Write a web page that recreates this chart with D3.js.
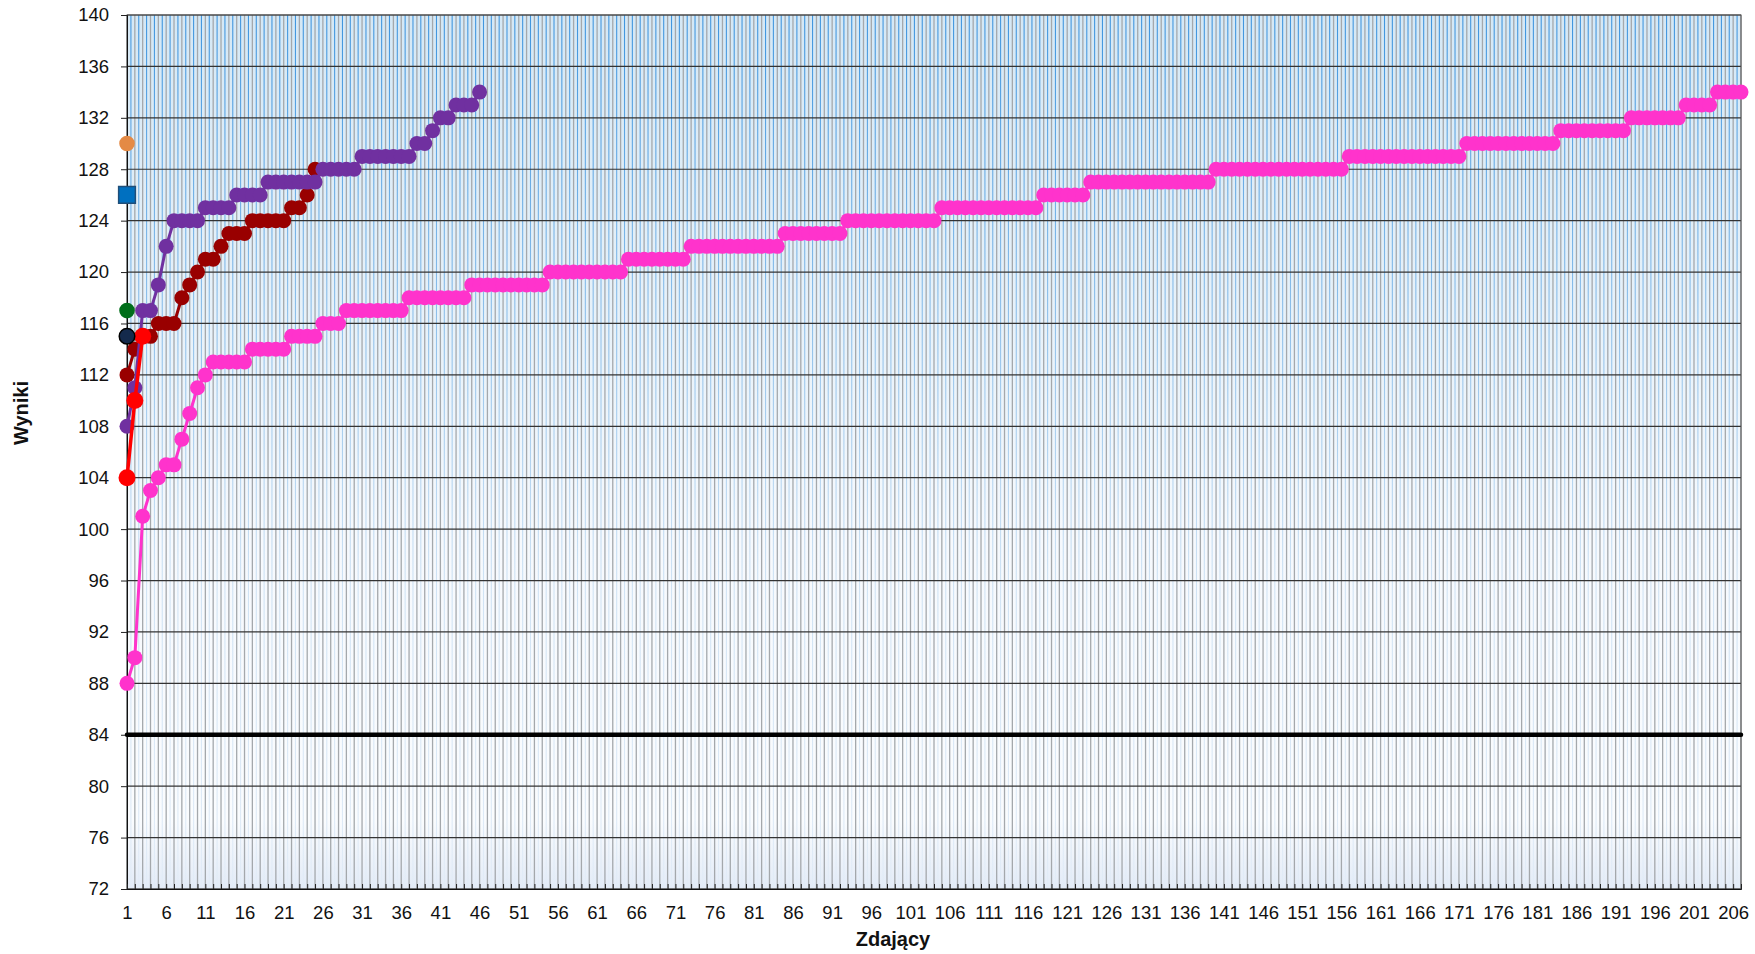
<!DOCTYPE html>
<html>
<head>
<meta charset="utf-8">
<script src="https://cdnjs.cloudflare.com/ajax/libs/d3/7.8.5/d3.min.js"></script>
<style>
body { margin: 0; background: #fff; }
text { font-family: "Liberation Sans", Arial, sans-serif; }
</style>
</head>
<body>
<script>
// examinees on the x axis (Zdający 1..207)
var categories = d3.range(1, 208);
var xTickLabels = [1, 6, 11, 16, 21, 26, 31, 36, 41, 46, 51, 56, 61, 66, 71, 76, 81, 86, 91, 96,
    101, 106, 111, 116, 121, 126, 131, 136, 141, 146, 151, 156, 161, 166, 171, 176, 181, 186,
    191, 196, 201, 206];
var yTicks = [72, 76, 80, 84, 88, 92, 96, 100, 104, 108, 112, 116, 120, 124, 128, 132, 136, 140];

// pink series, 207 results sorted
var pinkScores = [88, 90, 101, 103, 104, 105, 105, 107, 109, 111, 112,
    113, 113, 113, 113, 113,
    114, 114, 114, 114, 114,
    115, 115, 115, 115,
    116, 116, 116,
    117, 117, 117, 117, 117, 117, 117, 117,
    118, 118, 118, 118, 118, 118, 118, 118,
    119, 119, 119, 119, 119, 119, 119, 119, 119, 119,
    120, 120, 120, 120, 120, 120, 120, 120, 120, 120,
    121, 121, 121, 121, 121, 121, 121, 121,
    122, 122, 122, 122, 122, 122, 122, 122, 122, 122, 122, 122,
    123, 123, 123, 123, 123, 123, 123, 123,
    124, 124, 124, 124, 124, 124, 124, 124, 124, 124, 124, 124,
    125, 125, 125, 125, 125, 125, 125, 125, 125, 125, 125, 125, 125,
    126, 126, 126, 126, 126, 126,
    127, 127, 127, 127, 127, 127, 127, 127, 127, 127, 127, 127, 127, 127, 127, 127,
    128, 128, 128, 128, 128, 128, 128, 128, 128, 128, 128, 128, 128, 128, 128, 128, 128,
    129, 129, 129, 129, 129, 129, 129, 129, 129, 129, 129, 129, 129, 129, 129,
    130, 130, 130, 130, 130, 130, 130, 130, 130, 130, 130, 130,
    131, 131, 131, 131, 131, 131, 131, 131, 131,
    132, 132, 132, 132, 132, 132, 132,
    133, 133, 133, 133,
    134, 134, 134, 134];

// purple series, 46 results
var purpleScores = [108, 111, 117, 117, 119, 122, 124, 124, 124, 124,
    125, 125, 125, 125, 126, 126, 126, 126,
    127, 127, 127, 127, 127, 127, 127,
    128, 128, 128, 128, 128,
    129, 129, 129, 129, 129, 129, 129,
    130, 130, 131, 132, 132, 133, 133, 133, 134];

// dark red series, 25 results
var darkRedScores = [112, 114, 115, 115, 116, 116, 116, 118, 119, 120, 121, 121, 122,
    123, 123, 123, 124, 124, 124, 124, 124, 125, 125, 126, 128];

// red series, 3 results
var redScores = [104, 110, 115];

// single results at examinee 1
var singleScores = [130, 126, 117, 115];

// threshold line
var thresholdScore = 84;

var width = 1755;
var height = 954;
var plotLeft = 127, plotRight = 1741, plotTop = 15, plotBottom = 889;

var svg = d3.select("body")
    .append("svg")
    .attr("width", width)
    .attr("height", height);

var x = d3.scaleLinear()
    .domain([1, categories.length])
    .range([plotLeft, plotRight]);

var y = d3.scaleLinear()
    .domain([72, 140])
    .range([plotBottom, plotTop]);

// gradients for the plot background
var defs = svg.append("defs");
var bg = defs.append("linearGradient")
    .attr("id", "bg")
    .attr("x1", 0).attr("y1", 0).attr("x2", 0).attr("y2", 1);
bg.append("stop").attr("offset", "0%").attr("stop-color", "#d5e8f5");
bg.append("stop").attr("offset", "40%").attr("stop-color", "#eaf3fa");
bg.append("stop").attr("offset", "60%").attr("stop-color", "#f6f9fd");
bg.append("stop").attr("offset", "92%").attr("stop-color", "#fafcfe");
bg.append("stop").attr("offset", "100%").attr("stop-color", "#e3ebf7");

var stripe = defs.append("linearGradient")
    .attr("id", "stripe")
    .attr("gradientUnits", "userSpaceOnUse")
    .attr("x1", 0).attr("y1", plotTop).attr("x2", 0).attr("y2", plotBottom);
stripe.append("stop").attr("offset", "0%").attr("stop-color", "#3f95de");
stripe.append("stop").attr("offset", "35%").attr("stop-color", "#8fc0ea");
stripe.append("stop").attr("offset", "65%").attr("stop-color", "#d0e3f4");
stripe.append("stop").attr("offset", "100%").attr("stop-color", "#e2ecf7");

svg.append("rect")
    .attr("x", plotLeft)
    .attr("y", plotTop)
    .attr("width", plotRight - plotLeft)
    .attr("height", plotBottom - plotTop)
    .attr("fill", "url(#bg)");

// blue lines between categories
svg.append("g")
    .selectAll("line")
    .data(categories.slice(0, -1))
    .enter()
    .append("line")
    .attr("x1", function(d) { return x(d + 0.5); })
    .attr("x2", function(d) { return x(d + 0.5); })
    .attr("y1", plotTop)
    .attr("y2", plotBottom)
    .attr("stroke", "url(#stripe)")
    .attr("stroke-width", 1.1);

// grey gridline at every category
svg.append("g")
    .selectAll("line")
    .data(categories)
    .enter()
    .append("line")
    .attr("x1", function(d) { return x(d); })
    .attr("x2", function(d) { return x(d); })
    .attr("y1", plotTop)
    .attr("y2", plotBottom)
    .attr("stroke", "#a4a8ac")
    .attr("stroke-width", 1.3);

// horizontal gridlines
svg.append("g")
    .selectAll("line")
    .data(yTicks)
    .enter()
    .append("line")
    .attr("x1", plotLeft)
    .attr("x2", plotRight)
    .attr("y1", function(d) { return y(d); })
    .attr("y2", function(d) { return y(d); })
    .attr("stroke", "#333")
    .attr("stroke-width", 1.2);

// plot border
svg.append("rect")
    .attr("x", plotLeft)
    .attr("y", plotTop)
    .attr("width", plotRight - plotLeft)
    .attr("height", plotBottom - plotTop)
    .attr("fill", "none")
    .attr("stroke", "#555")
    .attr("stroke-width", 1);

// y axis
var yAxis = svg.append("g")
    .attr("transform", "translate(" + plotLeft + ",0)")
    .call(d3.axisLeft(y).tickValues(yTicks).tickSize(6).tickPadding(12));
yAxis.selectAll("text").attr("font-size", "18.5px").attr("fill", "#111")
    .style("font-family", "'Liberation Sans', Arial, sans-serif");
yAxis.selectAll("line").attr("stroke", "#222");
yAxis.select(".domain").attr("stroke", "#111");

// x axis: small inner ticks at every category, labels every 5th
var xTicks = svg.append("g")
    .attr("transform", "translate(0," + plotBottom + ")")
    .call(d3.axisBottom(x).tickValues(categories).tickSize(-5).tickFormat(""));
xTicks.selectAll("line").attr("stroke", "#222");
xTicks.select(".domain").attr("stroke", "#111");

var xLabels = svg.append("g")
    .attr("transform", "translate(0," + plotBottom + ")")
    .call(d3.axisBottom(x).tickValues(xTickLabels).tickSize(0).tickPadding(17)
        .tickFormat(d3.format("d")));
xLabels.select(".domain").remove();
xLabels.selectAll("text").attr("font-size", "18.5px").attr("fill", "#111")
    .style("font-family", "'Liberation Sans', Arial, sans-serif");

// axis titles
svg.append("text")
    .attr("transform", "translate(28,413) rotate(-90)")
    .attr("text-anchor", "middle")
    .attr("font-size", "20px")
    .attr("font-weight", "bold")
    .attr("fill", "#111")
    .text("Wyniki");

svg.append("text")
    .attr("x", 893)
    .attr("y", 946)
    .attr("text-anchor", "middle")
    .attr("font-size", "20px")
    .attr("font-weight", "bold")
    .attr("fill", "#111")
    .text("Zdający");

var line = d3.line()
    .x(function(d, i) { return x(categories[i]); })
    .y(function(d) { return y(d); });

function drawSeries(values, color, lineWidth, radius) {
    var g = svg.append("g");
    g.append("path")
        .datum(values)
        .attr("d", line)
        .attr("fill", "none")
        .attr("stroke", color)
        .attr("stroke-width", lineWidth)
        .attr("stroke-linejoin", "round");
    g.selectAll("circle")
        .data(values)
        .enter()
        .append("circle")
        .attr("cx", function(d, i) { return x(categories[i]); })
        .attr("cy", function(d) { return y(d); })
        .attr("r", radius)
        .attr("fill", color);
}

// threshold line
svg.append("line")
    .attr("x1", x(categories[0]))
    .attr("x2", x(categories[categories.length - 1]))
    .attr("y1", y(thresholdScore))
    .attr("y2", y(thresholdScore))
    .attr("stroke", "#000")
    .attr("stroke-width", 4.5)
    .attr("stroke-linecap", "round");

drawSeries(pinkScores, "#ff33cc", 3, 7.5);
drawSeries(darkRedScores, "#990000", 3, 7.5);
drawSeries(purpleScores, "#7030a0", 3, 7.5);
drawSeries(redScores, "#ff0000", 3.5, 8.5);

// single markers
var singleFill = ["#e48a45", "#0070c0", "#006e1a", "#142a4c"];
var singleStroke = ["none", "#1f4e79", "none", "#000"];
var singleShape = ["circle", "square", "circle", "circle"];

svg.append("g")
    .selectAll("path")
    .data(singleScores)
    .enter()
    .append("path")
    .attr("transform", function(d) { return "translate(" + x(categories[0]) + "," + y(d) + ")"; })
    .attr("d", function(d, i) {
        var type = singleShape[i] == "square" ? d3.symbolSquare : d3.symbolCircle;
        var size = singleShape[i] == "square" ? 280 : 190;
        return d3.symbol().type(type).size(size)();
    })
    .attr("fill", function(d, i) { return singleFill[i]; })
    .attr("stroke", function(d, i) { return singleStroke[i]; })
    .attr("stroke-width", 1.5);
</script>
</body>
</html>
